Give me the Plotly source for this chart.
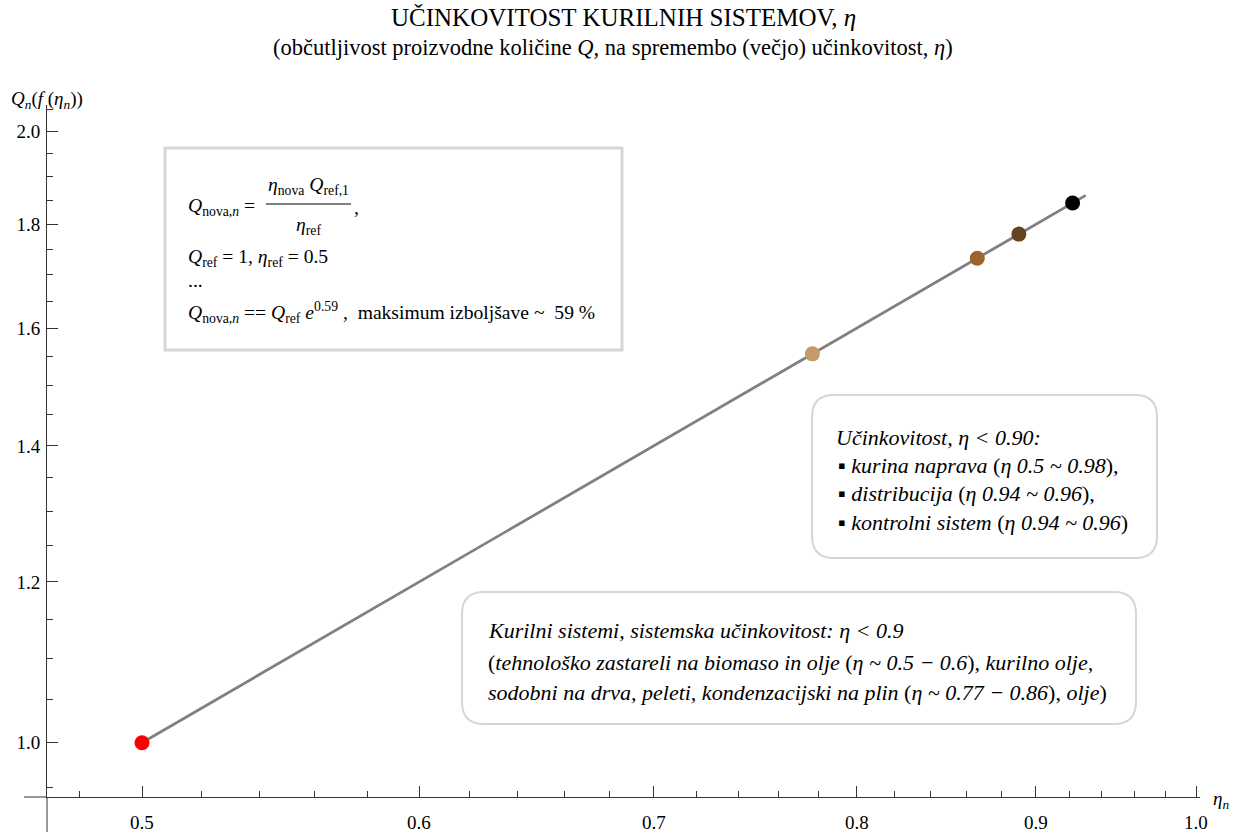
import math
import plotly.graph_objects as go

# ---------------- data ----------------
eta_line = [0.5, 0.93]
q_line = [1.0, 1.86]

eta_pts = [0.5, 0.777, 0.866, 0.89, 0.922]
q_pts = [1.0, 1.554, 1.732, 1.78, 1.844]
pt_colors = ["#ff0000", "#c49a6c", "#a0622d", "#654321", "#000000"]

x_ticks = [0.5, 0.6, 0.7, 0.8, 0.9, 1.0]
x_tick_text = ["0.5", "0.6", "0.7", "0.8", "0.9", "1.0"]
x_minor = [0.48, 0.52, 0.54, 0.56, 0.58, 0.62, 0.64, 0.66, 0.68,
           0.72, 0.74, 0.76, 0.78, 0.82, 0.84, 0.86, 0.88,
           0.92, 0.94, 0.96, 0.98]
y_ticks = [1.0, 1.2, 1.4, 1.6, 1.8, 2.0]
y_tick_text = ["1.0", "1.2", "1.4", "1.6", "1.8", "2.0"]
y_minor = [0.95, 1.05, 1.1, 1.15, 1.25, 1.3, 1.35, 1.45, 1.5, 1.55,
           1.65, 1.7, 1.75, 1.85, 1.9, 1.95, 2.05]

title_1 = "UČINKOVITOST KURILNIH SISTEMOV, <i>η</i>"
title_2 = "(občutljivost proizvodne količine <i>Q</i>, na spremembo (večjo) učinkovitost, <i>η</i>)"

# ---------------- layout geometry ----------------
FIG_W, FIG_H = 1247, 832
PL, PT = 47, 105
PR, PB = 1200, 797
PW, PH = PR - PL, PB - PT

def px(x):
    return (x - PL) / PW

def py(y):
    return (PB - y) / PH

FONT = "Liberation Serif"
AXC = "#333333"

fig = go.Figure()
fig.add_trace(go.Scatter(x=eta_line, y=q_line, mode="lines",
                         line=dict(color="#808080", width=2.8),
                         hoverinfo="skip", showlegend=False))
fig.add_trace(go.Scatter(x=eta_pts, y=q_pts, mode="markers",
                         marker=dict(color=pt_colors, size=15, line=dict(width=0)),
                         showlegend=False))

fig.update_layout(
    width=FIG_W, height=FIG_H,
    margin=dict(l=PL, r=FIG_W - PR, t=PT, b=FIG_H - PB, pad=0, autoexpand=False),
    paper_bgcolor="white", plot_bgcolor="white",
    font=dict(family=FONT, size=18, color="black"),
    showlegend=False,
)
fig.update_xaxes(type="log", range=[-0.32816, 0.00112], automargin=False,
                 showgrid=False, zeroline=False,
                 showline=True, linecolor=AXC, linewidth=1,
                 ticks="inside", ticklen=11, tickwidth=1, tickcolor=AXC,
                 tickmode="array", tickvals=x_ticks, ticktext=x_tick_text,
                 showticklabels=False,
                 minor=dict(tickmode="array", tickvals=x_minor, ticks="inside",
                            ticklen=6, tickwidth=1, tickcolor=AXC, showgrid=False))
fig.update_yaxes(type="log", range=[-0.02675, 0.3140], automargin=False,
                 showgrid=False, zeroline=False,
                 showline=True, linecolor=AXC, linewidth=1,
                 ticks="inside", ticklen=11, tickwidth=1, tickcolor=AXC,
                 tickmode="array", tickvals=y_ticks, ticktext=y_tick_text,
                 ticklabelstandoff=2,
                 minor=dict(tickmode="array", tickvals=y_minor, ticks="inside",
                            ticklen=6, tickwidth=1, tickcolor=AXC, showgrid=False),
                 tickfont=dict(family=FONT, size=19, color="black"))

shapes = []
# axis extensions (Mathematica style crossing axes)
shapes.append(dict(type="line", xref="paper", yref="paper",
                   x0=px(24), x1=0, y0=0, y1=0, line=dict(color=AXC, width=1)))
shapes.append(dict(type="line", xref="paper", yref="paper",
                   x0=0, x1=0, y0=0, y1=py(845), line=dict(color=AXC, width=1)))

# box 1 (square)
shapes.append(dict(type="rect", xref="paper", yref="paper",
                   x0=px(165), x1=px(622), y0=py(350), y1=py(148),
                   line=dict(color="#d6d6d6", width=3), fillcolor="white", layer="below"))
# fraction bar
shapes.append(dict(type="line", xref="paper", yref="paper",
                   x0=px(266), x1=px(351), y0=py(204), y1=py(204),
                   line=dict(color="black", width=1)))

def rounded(x0p, y0p, x1p, y1p, r):
    x0, x1 = px(x0p), px(x1p)
    yb, yt = py(y1p), py(y0p)
    rx, ry = r / PW, r / PH
    path = (f"M {x0+rx},{yt} L {x1-rx},{yt} Q {x1},{yt} {x1},{yt-ry} "
            f"L {x1},{yb+ry} Q {x1},{yb} {x1-rx},{yb} L {x0+rx},{yb} "
            f"Q {x0},{yb} {x0},{yb+ry} L {x0},{yt-ry} Q {x0},{yt} {x0+rx},{yt} Z")
    return dict(type="path", xref="paper", yref="paper", path=path,
                line=dict(color="#d6d6d6", width=2), fillcolor="white", layer="below")

shapes.append(rounded(812, 395, 1157, 558, 22))
shapes.append(rounded(462, 592, 1136, 724, 22))
fig.update_layout(shapes=shapes)

ann = []
def text(x, y, s, size=18, anchor="left"):
    ann.append(dict(x=px(x), y=py(y), xref="paper", yref="paper", text=s,
                    showarrow=False, xanchor=anchor, yanchor="middle",
                    font=dict(family=FONT, size=size, color="black")))

# x tick labels placed on the log axis below the axis line
for v, t in zip(x_ticks, x_tick_text):
    ann.append(dict(x=math.log10(v), y=py(822), xref="x", yref="paper", text=t,
                    showarrow=False, xanchor="center", yanchor="middle",
                    font=dict(family=FONT, size=19, color="black")))

# title
text(623.5, 18, title_1, size=25, anchor="center")
text(613, 47, title_2, size=22.5, anchor="center")

# axis labels
text(9, 100, "<i>Q</i><sub><i>n</i></sub>(<i>f</i> (<i>η</i><sub><i>n</i></sub>))", size=19)
text(1211, 800, "<i>η</i><sub><i>n</i></sub>", size=19)

# box 1 text
B1 = 19.6
text(186, 207, "<i>Q</i><sub>nova,<i>n</i></sub> =", size=B1)
text(308.5, 186, "<i>η</i><sub>nova</sub> <i>Q</i><sub>ref,1</sub>", size=B1, anchor="center")
text(308.5, 226, "<i>η</i><sub>ref</sub>", size=B1, anchor="center")
text(352, 207, ",", size=B1)
text(186, 258, "<i>Q</i><sub>ref</sub> = 1, <i>η</i><sub>ref</sub> = 0.5", size=B1)
text(186, 280, "...", size=B1)
text(186, 312, "<i>Q</i><sub>nova,<i>n</i></sub> == <i>Q</i><sub>ref</sub> <i>e</i><sup>0.59</sup> ,  maksimum izboljšave ~  59 %", size=B1)

# box 2 text
B2 = 22
text(834, 437, "<i>Učinkovitost, η < 0.90:</i>", size=B2)
text(836, 465, "▪ <i>kurina naprava</i> (<i>η 0.5 ~ 0.98</i>),", size=B2)
text(836, 494, "▪ <i>distribucija</i> (<i>η 0.94 ~ 0.96</i>),", size=B2)
text(836, 522, "▪ <i>kontrolni sistem</i> (<i>η 0.94 ~ 0.96</i>)", size=B2)

# box 3 text
text(486, 630, "<i>Kurilni sistemi, sistemska učinkovitost: η < 0.9</i>", size=B2)
text(486, 662, "(<i>tehnološko zastareli na biomaso in olje</i> (<i>η ~ 0.5 − 0.6</i>), <i>kurilno olje,</i>", size=B2)
text(486, 692, "<i>sodobni na drva, peleti, kondenzacijski na plin</i> (<i>η ~ 0.77 − 0.86</i>), <i>olje</i>)", size=B2)

fig.update_layout(annotations=ann)
fig.write_html("out.html", config={"displayModeBar": False},
               post_script="document.body.style.margin='0';")
